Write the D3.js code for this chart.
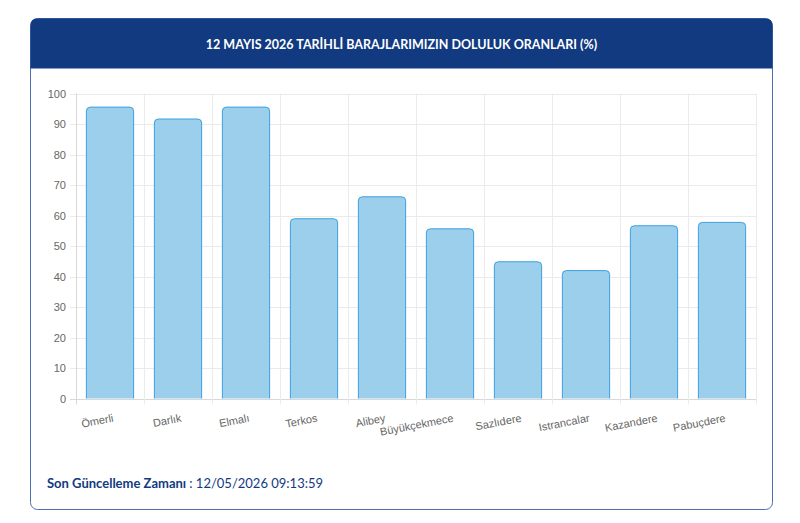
<!DOCTYPE html>
<html>
<head>
<meta charset="utf-8">
<script src="https://cdn.jsdelivr.net/npm/d3@7"></script>
<style>
  body { margin: 0; background: #fff; }
  #container { width: 800px; height: 523px; }
</style>
</head>
<body>
<div id="container"></div>
<script>
/* DATA */
const dams = ["Ömerli", "Darlık", "Elmalı", "Terkos", "Alibey", "Büyükçekmece", "Sazlıdere", "Istrancalar", "Kazandere", "Pabuçdere"];
const fillRates = [95.7, 91.8, 95.7, 59.1, 66.3, 55.8, 45.0, 42.1, 56.8, 57.9];
const yTicks = [0, 10, 20, 30, 40, 50, 60, 70, 80, 90, 100];
const titleText = "12 MAYIS 2026 TARİHLİ BARAJLARIMIZIN DOLULUK ORANLARI (%)";
const footerLabel = "Son Güncelleme Zamanı";
const footerValue = "12/05/2026 09:13:59";

/* CONSTANTS */
const width = 800;
const height = 523;
const card = { x: 30.5, y: 18.5, w: 742, h: 491, r: 7 };
const plot = { left: 76, right: 756, top: 93.5, bottom: 398.5 };

const svg = d3.select("#container")
    .append("svg")
    .attr("width", width)
    .attr("height", height)
    .style("font-family", "Lato, 'Open Sans', sans-serif")

// card
svg.append("rect")
    .attr("x", card.x).attr("y", card.y)
    .attr("width", card.w).attr("height", card.h)
    .attr("rx", card.r)
    .attr("fill", "#fff")
    .attr("stroke", "#4d6fb0")
    .attr("stroke-width", 1)

// header (rounded top only)
const hh = 50;
svg.append("path")
    .attr("d", `M${card.x},${card.y + hh} V${card.y + card.r} Q${card.x},${card.y} ${card.x + card.r},${card.y}
        H${card.x + card.w - card.r} Q${card.x + card.w},${card.y} ${card.x + card.w},${card.y + card.r} V${card.y + hh} Z`)
    .attr("fill", "#113a81")

svg.append("text")
    .attr("x", card.x + card.w / 2)
    .attr("y", card.y + 30)
    .attr("text-anchor", "middle")
    .attr("fill", "#fff")
    .style("font-size", "12.5px")
    .style("font-weight", "bold")
    .text(titleText)

/* SCALES */
const xScale = d3.scaleBand()
    .domain(dams)
    .range([plot.left, plot.right])
    .paddingInner(0.29)
    .paddingOuter(0.145)

const yScale = d3.scaleLinear()
    .domain([0, 100])
    .range([plot.bottom, plot.top])

const step = xScale.step();

// grid lines
svg.append("g")
    .selectAll("line")
    .data(yTicks)
    .join("line")
    .attr("x1", plot.left - 6)
    .attr("x2", plot.right)
    .attr("y1", d => Math.round(yScale(d)) + 0.5)
    .attr("y2", d => Math.round(yScale(d)) + 0.5)
    .attr("stroke", d => d === 0 ? "#d8d8d8" : "#ebebeb")

const vLines = d3.range(dams.length + 1).map(i => plot.left + i * step);
svg.append("g")
    .selectAll("line")
    .data(vLines)
    .join("line")
    .attr("x1", d => Math.round(d) + 0.5)
    .attr("x2", d => Math.round(d) + 0.5)
    .attr("y1", plot.top)
    .attr("y2", plot.bottom + 6)
    .attr("stroke", (d, i) => i === 0 ? "#d8d8d8" : "#ebebeb")

// y labels
svg.append("g")
    .selectAll("text")
    .data(yTicks)
    .join("text")
    .attr("x", plot.left - 10)
    .attr("y", d => yScale(d) + 4)
    .attr("text-anchor", "end")
    .attr("fill", "#666")
    .style("font-family", "'Liberation Sans', Arial, sans-serif")
    .style("font-size", "11px")
    .text(d => d)

// BARS
const r = 4;
svg.append("g")
    .selectAll("path")
    .data(dams)
    .join("path")
    .attr("d", (d, i) => {
        const x0 = xScale(d) + 0.5, x1 = xScale(d) + xScale.bandwidth() - 0.5;
        const y0 = yScale(fillRates[i]) + 0.5, yb = plot.bottom;
        return `M${x0},${yb} V${y0 + r} Q${x0},${y0} ${x0 + r},${y0} H${x1 - r} Q${x1},${y0} ${x1},${y0 + r} V${yb}`;
    })
    .attr("fill", "#9bcfec")
    .attr("stroke", "#3aa0e0")
    .attr("stroke-width", 1)

// x labels
svg.append("g")
    .selectAll("text")
    .data(dams)
    .join("text")
    .attr("transform", d => `translate(${xScale(d) + xScale.bandwidth() / 2 + 4},${plot.bottom + 23}) rotate(-11)`)
    .attr("text-anchor", "end")
    .attr("fill", "#666")
    .style("font-family", "'Liberation Sans', Arial, sans-serif")
    .style("font-size", "11px")
    .text(d => d)

// footer
const foot = svg.append("text")
    .attr("x", 47)
    .attr("y", 488)
    .style("font-size", "13px")
    .attr("fill", "#113a81")
foot.append("tspan")
    .style("font-weight", "bold")
    .text(footerLabel + " ")
foot.append("tspan")
    .text(": " + footerValue)
</script>
</body>
</html>
